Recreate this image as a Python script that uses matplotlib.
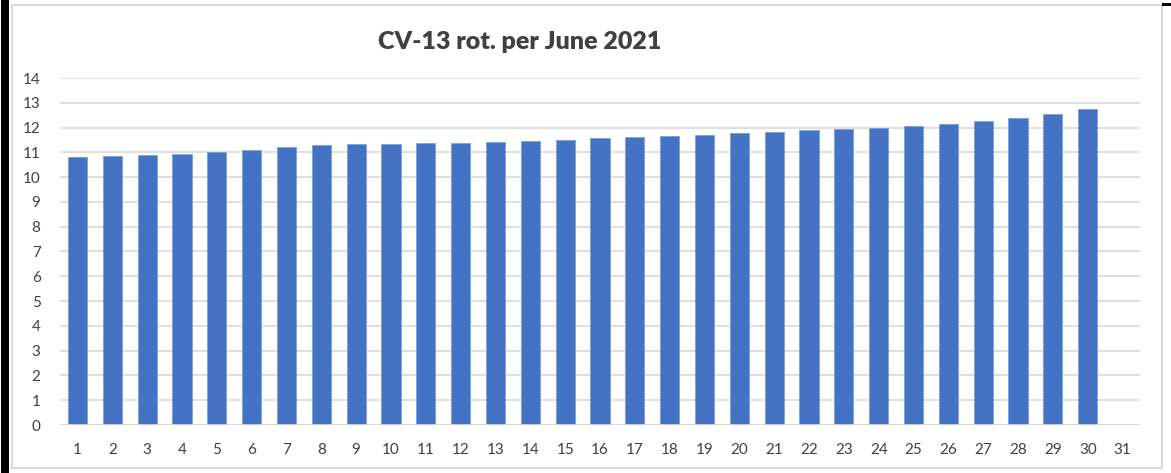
import matplotlib.pyplot as plt
from matplotlib.patches import Rectangle

days = list(range(1, 32))
values = [10.82, 10.86, 10.90, 10.95, 11.01, 11.09, 11.21, 11.28, 11.32, 11.34,
          11.37, 11.38, 11.42, 11.46, 11.51, 11.57, 11.61, 11.67, 11.72, 11.78,
          11.84, 11.90, 11.96, 12.00, 12.07, 12.15, 12.25, 12.38, 12.55, 12.73]
yticks = list(range(0, 15))

plt.rcParams['font.family'] = ['Lato', 'DejaVu Sans']

fig = plt.figure(figsize=(11.71, 4.73), dpi=100)
ax = fig.add_axes([60 / 1171, 1 - 425 / 473, 1080 / 1171, 347 / 473])

ax.bar(days[:len(values)], values, width=0.55, color='#4472C4',
       edgecolor='#7f9fd6', linewidth=0.6, zorder=3)
ax.axhline(0, color='#d9d9d9', lw=1.2, zorder=4)

ax.set_xlim(0.5, 31.5)
ax.set_ylim(0, 14)
ax.set_yticks(yticks)
ax.set_xticks(days)
ax.grid(axis='y', color='#d9d9d9', lw=1.2, zorder=0)
for s in ax.spines.values():
    s.set_visible(False)
ax.tick_params(length=0, labelsize=11, colors='#404040')
ax.tick_params(axis='y', pad=14)
ax.tick_params(axis='x', pad=13)

fig.text(520 / 1171, 1 - 42 / 473, 'CV-13 rot. per June 2021', ha='center',
         va='center', fontsize=18, fontweight='heavy', color='#404040')

# chart frame + black edge on the left
fig.patches.append(Rectangle((12 / 1171, 5 / 473), 1150 / 1171, 463 / 473,
                             transform=fig.transFigure, fill=False,
                             edgecolor='#d9d9d9', lw=1.5))
fig.patches.append(Rectangle((1 / 1171, 0), 8 / 1171, 1, transform=fig.transFigure,
                             color='black', lw=0))
fig.patches.append(Rectangle((1162 / 1171, 1 - 6 / 473), 9 / 1171, 3 / 473,
                             transform=fig.transFigure, color='black', lw=0))

fig.savefig('out.png', dpi=100)
